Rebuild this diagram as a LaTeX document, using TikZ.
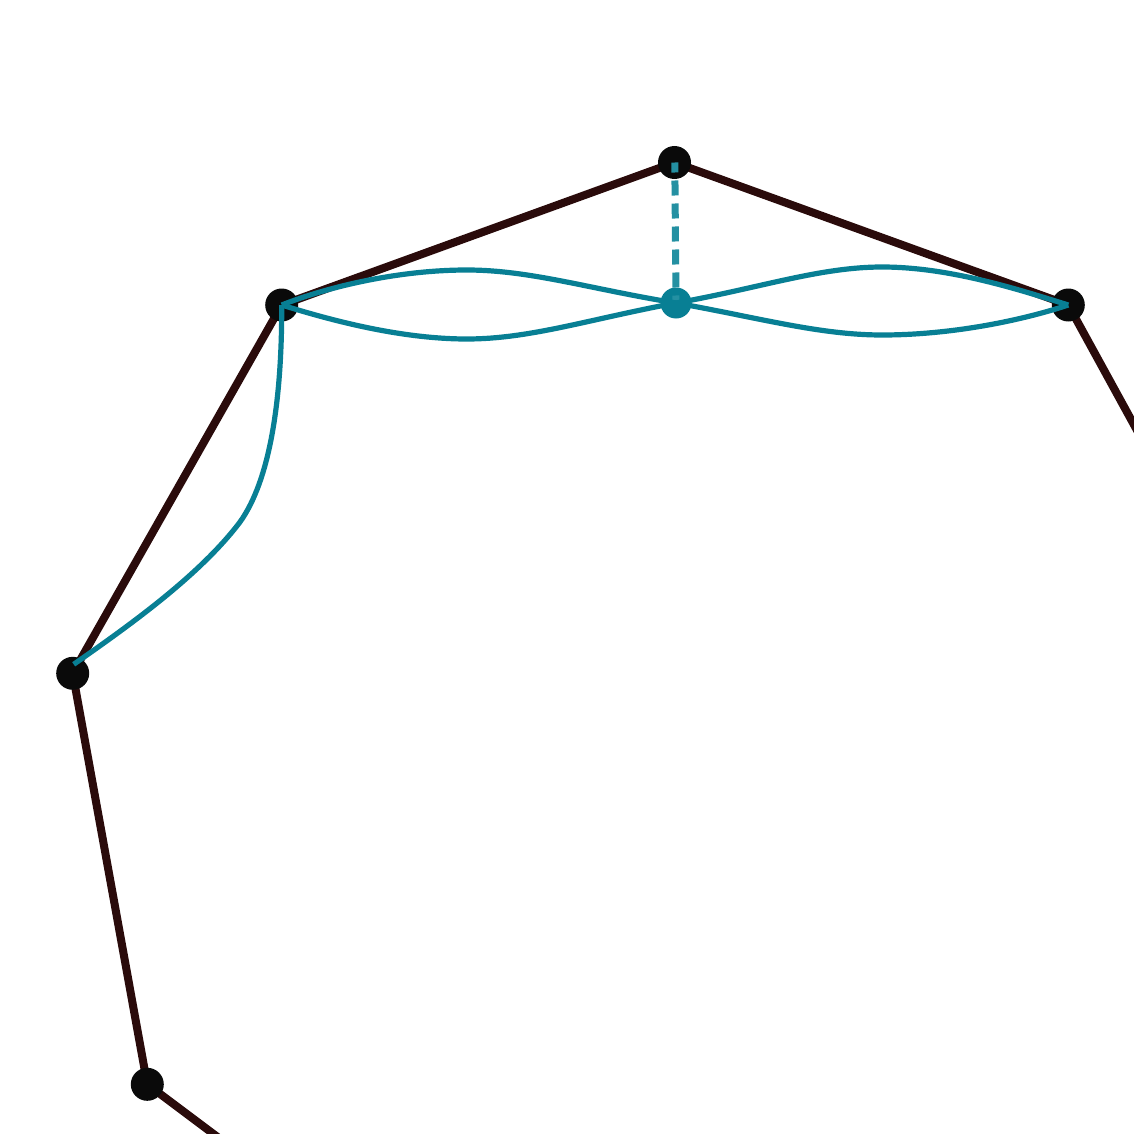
\documentclass[tikz,border=0pt]{standalone}
\usetikzlibrary{calc}
\definecolor{edgec}{HTML}{2A0B0B}
\definecolor{dotc}{HTML}{0A0A0A}
\definecolor{tealc}{HTML}{087F94}
\definecolor{dashc}{HTML}{2490A2}
\tikzset{
  polyedge/.style={draw=edgec,line width=8pt,line join=round},
  vdot/.style={circle,fill=dotc,inner sep=0pt,minimum size=33pt},
  tdot/.style={circle,fill=tealc,inner sep=0pt,minimum size=31pt},
  tcurve/.style={draw=tealc,line width=5.2pt},
  tdash/.style={draw=dashc,line width=7pt,dash pattern=on 15pt off 8pt,dash phase=5pt}
}
\begin{document}
\begin{tikzpicture}[x=1pt,y=-1pt]
\useasboundingbox (0,0) rectangle (1134,1134);
\clip (0,0) rectangle (1134,1134);
\coordinate (vA) at (674.5,162.5);
\coordinate (vB) at (1068.3,305);
\coordinate (vC) at (281.7,305);
\coordinate (vD) at (72.7,673.3);
\coordinate (vE) at (147.3,1084.3);
\coordinate (vG) at (1270,673);
\coordinate (vF) at (483,1336);
\draw[polyedge] (vG)--(vB)--(vA)--(vC)--(vD)--(vE)--(vF);
\foreach \n in {A,B,C,D,E}{ \node[vdot] (d\n) at (v\n) {}; }
\node[tdot] (m) at (676,303) {};
\draw[tdash] (674.8,162.5) -- (m.center);
\draw[tcurve] (vC) .. controls (330,286) and (400,270) .. (467,270)
  .. controls (530,270) and (590,289) .. (m.center);
\draw[tcurve] (vC) .. controls (330,320) and (400,339) .. (467,339)
  .. controls (530,339) and (590,319) .. (m.center);
\draw[tcurve] (m.center) .. controls (760,288) and (820,267) .. (882,267)
  .. controls (950,267) and (1020,290) .. (vB);
\draw[tcurve] (m.center) .. controls (760,318) and (820,335) .. (882,335)
  .. controls (950,335) and (1020,321) .. (vB);
\draw[tcurve] (vC) .. controls (282,400) and (270,480) .. (240,522)
  .. controls (200,575) and (130,625) .. ($(vD)+(1,-9)$);
\end{tikzpicture}
\end{document}
